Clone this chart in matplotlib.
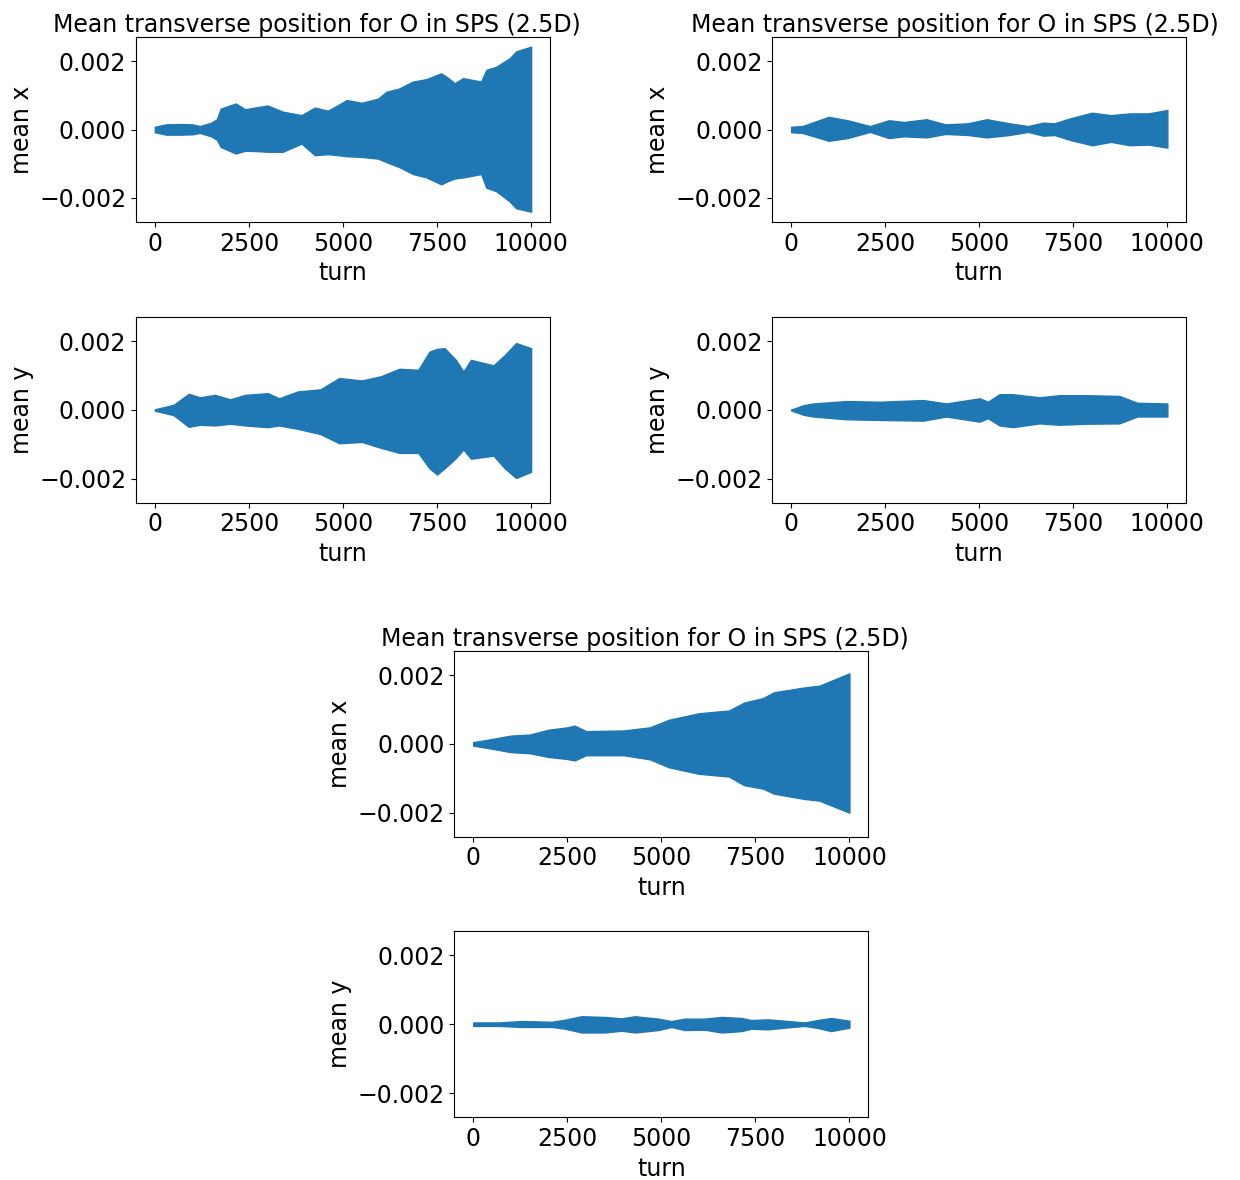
import matplotlib
matplotlib.use('Agg')
import matplotlib.pyplot as plt
import numpy as np

# --- Envelope of the mean transverse position ---
# top left: mean x
t_x1 = [0, 300, 700, 1000, 1200, 1500, 1650, 1750, 2150, 2400, 2700, 3000, 3400, 3900, 4250,
        4600, 4880, 5100, 5500, 5930, 6150, 6500, 6860, 7220, 7610, 7800, 7970, 8190, 8670,
        8810, 9070, 9430, 9600, 9800, 10000]
up_x1 = [0.00008, 0.00015, 0.00016, 0.00015, 0.0001, 0.0002, 0.0003, 0.00061, 0.00076, 0.00059,
         0.00065, 0.0007, 0.00052, 0.00042, 0.00064, 0.00055, 0.00072, 0.00086, 0.00078, 0.0009,
         0.0011, 0.0012, 0.0014, 0.00147, 0.00164, 0.0015, 0.00135, 0.0015, 0.0014, 0.00174,
         0.00183, 0.00208, 0.00228, 0.00235, 0.00242]
lo_x1 = [-0.00008, -0.00015, -0.00015, -0.00014, -0.0001, -0.0002, -0.0003, -0.00051, -0.0007,
         -0.00062, -0.00063, -0.00065, -0.00065, -0.00041, -0.00075, -0.00072, -0.00075, -0.00078,
         -0.0008, -0.00085, -0.00095, -0.0011, -0.0013, -0.0014, -0.0016, -0.0015, -0.00143,
         -0.0014, -0.0013, -0.0017, -0.0018, -0.0021, -0.0023, -0.00235, -0.0024]

# top right: mean x
t_x2 = [0, 300, 1000, 1500, 2100, 2600, 3000, 3600, 4100, 4700, 5200, 5800, 6300, 6700,
        7000, 7400, 8000, 8500, 9000, 9500, 10000]
up_x2 = [0.00008, 0.0001, 0.00037, 0.00027, 0.0001, 0.00027, 0.00022, 0.0003, 0.00015, 0.00018,
         0.0003, 0.00018, 0.0001, 0.0002, 0.00018, 0.00032, 0.00049, 0.00042, 0.00047, 0.00047, 0.00057]
lo_x2 = [-0.00008, -0.0001, -0.00033, -0.00025, -0.00007, -0.00025, -0.0002, -0.00023, -0.00013,
         -0.00016, -0.00023, -0.00016, -0.00007, -0.00018, -0.00016, -0.0003, -0.00046, -0.00036,
         -0.00046, -0.00044, -0.00053]

# second row left: mean y
t_y1 = [0, 500, 900, 1200, 1600, 2000, 2400, 3000, 3300, 3800, 4400, 4900, 5500, 6000, 6500,
        7000, 7300, 7500, 7700, 8000, 8200, 8400, 9000, 9300, 9600, 10000]
up_y1 = [0.00002, 0.00015, 0.00047, 0.00037, 0.00044, 0.00031, 0.00044, 0.00049, 0.00034, 0.00054,
         0.0006, 0.00093, 0.00086, 0.00098, 0.0012, 0.00117, 0.0017, 0.00178, 0.0018, 0.00146,
         0.00112, 0.00146, 0.0013, 0.0016, 0.00195, 0.0018]
lo_y1 = [-0.00002, -0.00015, -0.00049, -0.00043, -0.00045, -0.0004, -0.00045, -0.0005, -0.00045,
         -0.00055, -0.0007, -0.00097, -0.00093, -0.0011, -0.00125, -0.00125, -0.0017, -0.00188,
         -0.0017, -0.0014, -0.00115, -0.00142, -0.00133, -0.0017, -0.00198, -0.0018]

# second row right: mean y
t_y2 = [0, 330, 590, 1475, 2360, 3510, 4125, 5010, 5230, 5540, 5890, 6600, 7130, 7840,
        8720, 9200, 10000]
up_y2 = [0.00001, 0.00014, 0.00019, 0.00026, 0.00024, 0.00029, 0.00019, 0.00034, 0.00024, 0.00046,
         0.00046, 0.00037, 0.00043, 0.00043, 0.00041, 0.00021, 0.00019]
lo_y2 = [-0.00001, -0.00014, -0.00019, -0.00027, -0.00029, -0.00031, -0.00019, -0.00034, -0.00024,
         -0.00045, -0.0005, -0.00039, -0.00043, -0.0004, -0.00039, -0.00019, -0.00019]

# bottom: mean x
t_x3 = [0, 500, 1000, 1500, 2000, 2500, 2700, 3000, 4000, 4700, 5200, 6000, 6800, 7200,
        7700, 8000, 8800, 9200, 10000]
up_x3 = [0.00005, 0.00014, 0.00024, 0.00027, 0.00041, 0.00048, 0.00053, 0.00037, 0.00039, 0.00048,
         0.0007, 0.00089, 0.00097, 0.0012, 0.00133, 0.0015, 0.00164, 0.00169, 0.00205]
lo_x3 = [-0.00005, -0.00014, -0.00024, -0.00027, -0.00038, -0.00044, -0.00048, -0.00033, -0.00033,
         -0.00045, -0.00068, -0.00087, -0.00095, -0.0012, -0.0013, -0.00145, -0.0016, -0.00165, -0.002]

# bottom: mean y
t_y3 = [0, 670, 1290, 2090, 2440, 2880, 3500, 3940, 4300, 4920, 5270, 5620, 6150, 6600,
        7130, 7390, 7830, 8280, 8810, 9160, 9510, 10000]
up_y3 = [0.00005, 0.00005, 0.00009, 0.00007, 0.00013, 0.00023, 0.00021, 0.00017, 0.00023, 0.00016,
         0.00009, 0.00016, 0.00016, 0.00021, 0.00018, 0.00012, 0.00014, 0.0001, 0.00005, 0.00012,
         0.00018, 0.0001]
lo_y3 = [-0.00005, -0.00005, -0.00008, -0.00008, -0.00013, -0.00024, -0.00024, -0.00019, -0.00024,
         -0.00017, -0.00008, -0.00017, -0.00016, -0.00024, -0.0002, -0.00013, -0.00015, -0.0001,
         -0.00005, -0.00011, -0.0002, -0.0001]

title = 'Mean transverse position for O in SPS (2.5D)'

plt.rcParams['font.size'] = 17

fig = plt.figure(figsize=(12.4, 11.8), dpi=100)

# axes positions [left, bottom, width, height] and title x-position (None = no title)
panels = [
    ([0.1097, 0.8119, 0.3338, 0.1567], t_x1, up_x1, lo_x1, 'mean x', 0.437),
    ([0.6228, 0.8119, 0.3338, 0.1567], t_x2, up_x2, lo_x2, 'mean x', 0.442),
    ([0.1097, 0.5740, 0.3338, 0.1571], t_y1, up_y1, lo_y1, 'mean y', None),
    ([0.6228, 0.5740, 0.3338, 0.1571], t_y2, up_y2, lo_y2, 'mean y', None),
    ([0.3664, 0.2909, 0.3338, 0.1574], t_x3, up_x3, lo_x3, 'mean x', 0.461),
    ([0.3664, 0.0531, 0.3338, 0.1579], t_y3, up_y3, lo_y3, 'mean y', None),
]

for pos, t, up, lo, ylab, tx in panels:
    ax = fig.add_axes(pos)
    ax.fill_between(t, lo, up, color='#1f77b4', linewidth=1)
    ax.set_xlim(-500, 10500)
    ax.set_ylim(-0.0027, 0.0027)
    ax.set_xticks([0, 2500, 5000, 7500, 10000])
    ax.set_yticks([-0.002, 0.0, 0.002])
    ax.set_xlabel('turn')
    ax.set_ylabel(ylab)
    if tx is not None:
        ax.set_title(title, fontsize=17, x=tx, pad=2)

fig.savefig('out.png', dpi=100)
